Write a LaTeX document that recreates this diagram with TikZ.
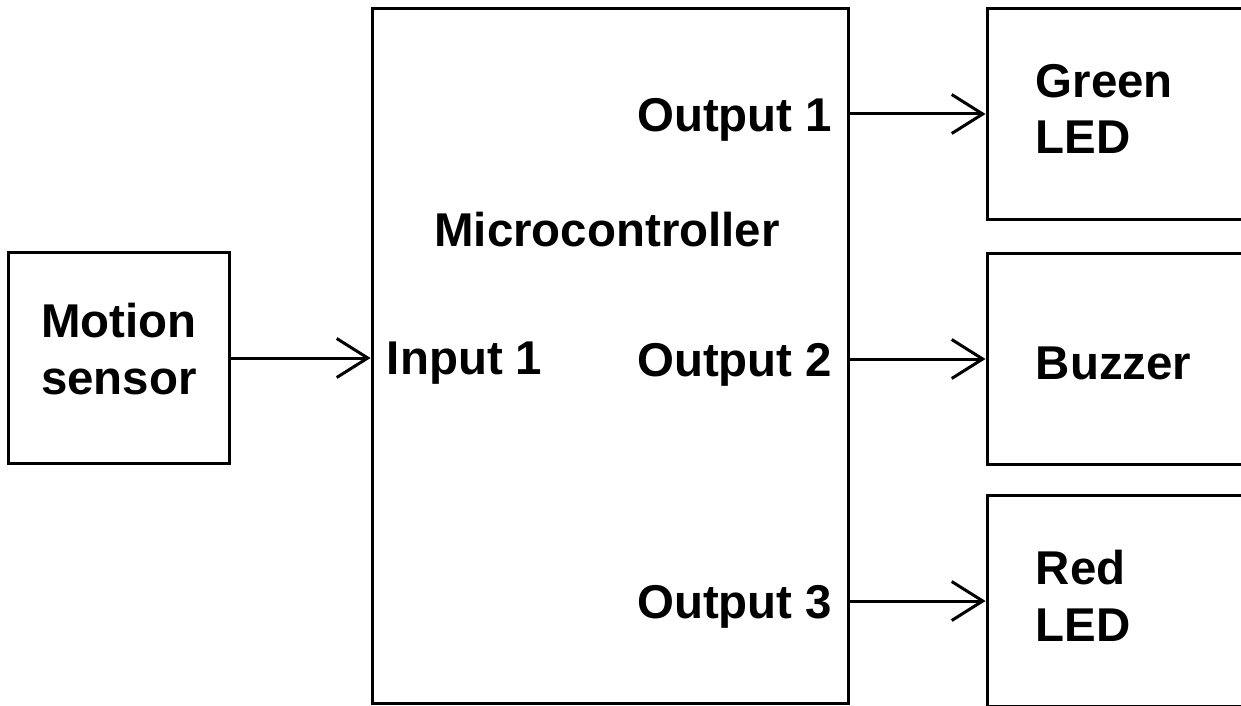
\documentclass[tikz,border=0pt]{standalone}
\usepackage{fontspec}
\setmainfont{Liberation Sans}
\usetikzlibrary{arrows.meta, positioning}

\begin{document}
\begin{tikzpicture}[x=0.02cm, y=-0.02cm,
    block/.style={draw, line width=0.06cm, minimum height=4.24cm, inner sep=0pt},
    arrow/.style={-{Straight Barb[length=0.62cm, width=0.78cm]}, line width=0.06cm},
    port_label/.style={font=\fontsize{27}{32.3}\selectfont\bfseries, inner sep=0pt, align=left}
]

    % Frame of the picture (right-hand boxes run off the edge)
    \useasboundingbox (0,0) rectangle (1241,706);
    \clip (0,0) rectangle (1241,706);

    % ── Blocks ──
    \node[block, minimum width=9.54cm, minimum height=13.92cm] (mcu) at (610.5,356) {};
    \node[block, minimum width=4.44cm] (sensor) at (119,358) {};
    \node[block, minimum width=6cm] (green) at (1137,114) {};
    \node[block, minimum width=6cm] (buzzer) at (1137,359) {};
    \node[block, minimum width=6cm] (red) at (1137,601) {};

    % ── Block texts ──
    \node[port_label, align=center] (sensor_txt) at ([yshift=0.18cm]sensor.center) {Motion\\sensor};
    \node[port_label, anchor=west] (green_txt) at ([xshift=1cm, yshift=0.1cm]green.west) {Green\\LED};
    \node[port_label, anchor=west] (buzzer_txt) at ([xshift=1cm, yshift=-0.08cm]buzzer.west) {Buzzer};
    \node[port_label, anchor=west] (red_txt) at ([xshift=1cm, yshift=0.1cm]red.west) {Red\\LED};

    % ── Microcontroller ports ──
    \node[port_label] (mcu_txt) at (607,230) {Microcontroller};
    \node[port_label, anchor=west] (in1) at ([xshift=0.32cm, yshift=-0.1cm]mcu.west |- sensor.east) {Input 1};
    \node[port_label, anchor=east] (out1) at ([xshift=-0.36cm, yshift=-0.12cm]mcu.east |- green.west) {Output 1};
    \node[port_label, anchor=east] (out2) at ([xshift=-0.36cm, yshift=-0.12cm]mcu.east |- buzzer.west) {Output 2};
    \node[port_label, anchor=east] (out3) at ([xshift=-0.36cm, yshift=-0.12cm]mcu.east |- red.west) {Output 3};

    % ── Signal lines ──
    \draw[arrow] (sensor.east) -- (sensor.east -| mcu.west);
    \draw[arrow] (mcu.east |- green.west) -- (green.west);
    \draw[arrow] (mcu.east |- buzzer.west) -- (buzzer.west);
    \draw[arrow] (mcu.east |- red.west) -- (red.west);

\end{tikzpicture}
\end{document}
